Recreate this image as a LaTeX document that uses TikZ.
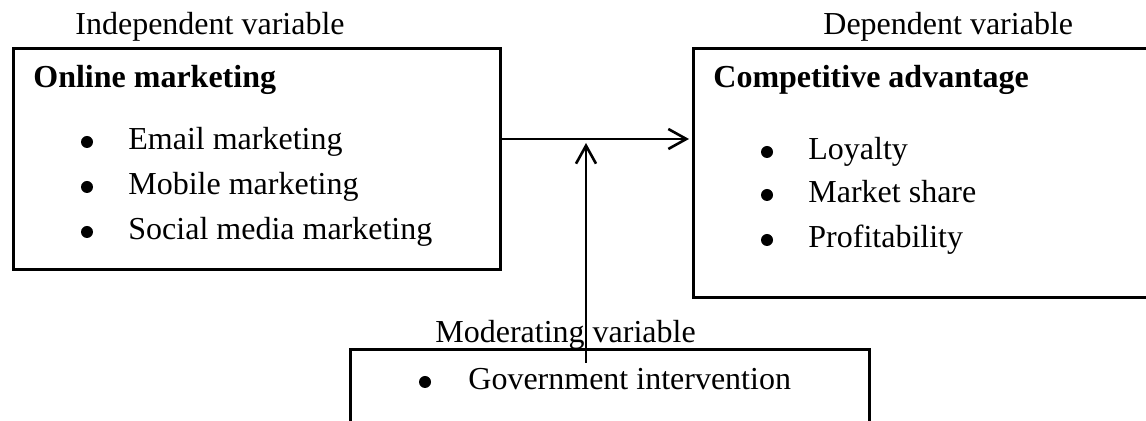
\documentclass[tikz,border=0pt]{standalone}
\usepackage{fontspec}
\setmainfont{Liberation Serif}
\usetikzlibrary{arrows.meta}
\begin{document}
\begin{tikzpicture}[x=0.5pt,y=-0.5pt,
  txt/.style={inner sep=0pt, anchor=base west, font=\fontsize{16}{19}\selectfont},
  ttl/.style={inner sep=0pt, anchor=base west, font=\fontsize{16}{19}\selectfont\bfseries},
  dot/.style={circle, fill, inner sep=0pt, minimum size=6pt},
  frame/.style={draw, line width=1.5pt, inner sep=0pt, anchor=north west},
  conn/.style={line width=1.3pt, -{Straight Barb[length=9pt,width=10pt]}}]
\useasboundingbox (0,0) rectangle (1146,421);
\clip (0,0) rectangle (1146,421);

% boxes
\node[frame, minimum width=243.5pt, minimum height=110.5pt] (indep) at (12,47) {};
\node[frame, minimum width=240pt, minimum height=124.5pt] (dep) at (692,47) {};
\node[frame, minimum width=259.5pt, minimum height=50pt] (mod) at (349,348) {};

% captions above the boxes
\node[txt] (indeplbl) at (75,35) {Independent variable};
\node[txt] (deplbl) at (823,35) {Dependent variable};
\node[txt] (modlbl) at (435,343) {Moderating variable};

% independent variable
\node[ttl] (indeptitle) at (33,88) {Online marketing};
\node[dot] (b1) at (87,142) {};
\node[txt] (i1) at (128,150) {Email marketing};
\node[dot] (b2) at (87,187) {};
\node[txt] (i2) at (128,195) {Mobile marketing};
\node[dot] (b3) at (87,232) {};
\node[txt] (i3) at (128,240) {Social media marketing};

% dependent variable
\node[ttl] (deptitle) at (713,88) {Competitive advantage};
\node[dot] (d1b) at (767,152) {};
\node[txt] (d1) at (808,160) {Loyalty};
\node[dot] (d2b) at (767,195) {};
\node[txt] (d2) at (808,203) {Market share};
\node[dot] (d3b) at (767,240) {};
\node[txt] (d3) at (808,248) {Profitability};

% moderating variable
\node[dot] (m1b) at (425,382) {};
\node[txt] (m1) at (468,390) {Government intervention};

% connectors
\coordinate (ay) at (0,139);
\coordinate (mtail) at (586,363);
\coordinate (mtip) at (586,143);
\draw[conn, shorten >=1.5pt] (indep.east |- ay) -- (dep.west |- ay);
\draw[conn] (mtail) -- (mtip);
\end{tikzpicture}
\end{document}
